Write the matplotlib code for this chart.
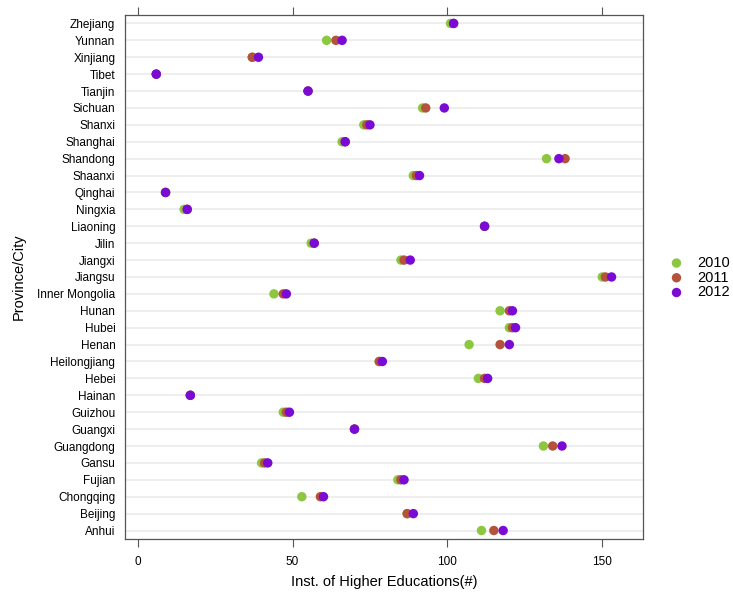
import numpy as np
import matplotlib
matplotlib.use("Agg")
import matplotlib.pyplot as plt

plt.rcParams['font.family'] = ['Liberation Sans', 'DejaVu Sans']

# provinces listed bottom-to-top
provinces = ["Anhui", "Beijing", "Chongqing", "Fujian", "Gansu", "Guangdong",
             "Guangxi", "Guizhou", "Hainan", "Hebei", "Heilongjiang", "Henan",
             "Hubei", "Hunan", "Inner Mongolia", "Jiangsu", "Jiangxi", "Jilin",
             "Liaoning", "Ningxia", "Qinghai", "Shaanxi", "Shandong", "Shanghai",
             "Shanxi", "Sichuan", "Tianjin", "Tibet", "Xinjiang", "Yunnan",
             "Zhejiang"]

inst_2010 = [111, 87, 53, 84, 40, 131, 70, 47, 17, 110, 78, 107, 120, 117, 44,
             150, 85, 56, 112, 15, 9, 89, 132, 66, 73, 92, 55, 6, 37, 61, 101]
inst_2011 = [115, 87, 59, 85, 41, 134, 70, 48, 17, 112, 78, 117, 121, 120, 47,
             151, 86, 57, 112, 16, 9, 90, 138, 67, 74, 93, 55, 6, 37, 64, 102]
inst_2012 = [118, 89, 60, 86, 42, 137, 70, 49, 17, 113, 79, 120, 122, 121, 48,
             153, 88, 57, 112, 16, 9, 91, 136, 67, 75, 99, 55, 6, 39, 66, 102]

years = ["2010", "2011", "2012"]
colors = ["#8dc640", "#b5523b", "#7a0ad4"]

fig = plt.figure(figsize=(7.33, 5.97), dpi=100)
ax = fig.add_axes([0.1705, 0.0972, 0.877 - 0.1705, 0.9749 - 0.0972])

y = np.arange(len(provinces))
for yy in y:
    ax.axhline(yy, color="#ebebeb", lw=1.2, zorder=0)

for vals, col, lab in zip([inst_2010, inst_2011, inst_2012], colors, years):
    ax.scatter(vals, y, s=46, color=col, edgecolors="none", label=lab, zorder=3)

ax.set_xlim(-4.1, 163.1)
ax.set_ylim(-0.5, len(provinces) - 0.5)
ax.set_yticks(y)
ax.set_yticklabels(provinces, fontsize=8.5)
ax.set_xticks([0, 50, 100, 150])
ax.tick_params(axis="y", length=0, pad=7)
ax.tick_params(axis="x", length=6, width=0.8, color="#555555", labelsize=8.5,
               pad=6, top=True, labeltop=False, direction="out")

for sp in ax.spines.values():
    sp.set_color("#555555")
    sp.set_linewidth(0.9)

ax.set_xlabel("Inst. of Higher Educations(#)", fontsize=10.5, labelpad=5)
ax.set_ylabel("Province/City", fontsize=10.5, labelpad=8)

fig.legend(loc="center left", bbox_to_anchor=(0.905, 0.535), frameon=False,
           fontsize=10.5, handletextpad=0.9, labelspacing=0.05,
           borderaxespad=0, handlelength=1.0, scatterpoints=1)

fig.savefig("out.png", dpi=100)
